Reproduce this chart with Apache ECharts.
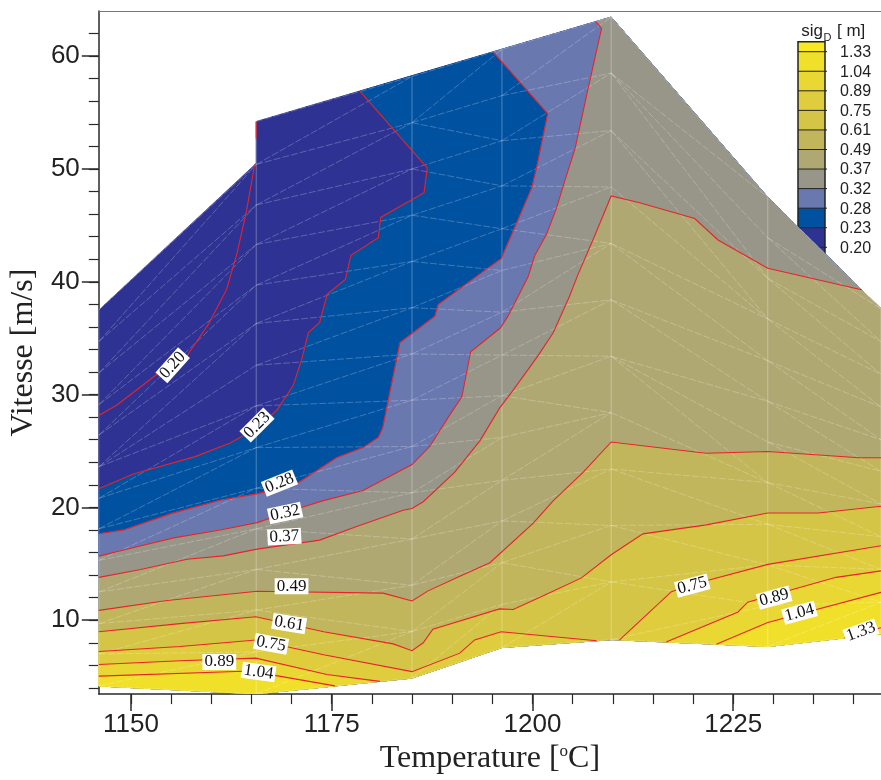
<!DOCTYPE html>
<html>
<head>
<meta charset="utf-8">
<script src="https://cdn.jsdelivr.net/npm/echarts@6/dist/echarts.min.js"></script>
<style>
html,body{margin:0;padding:0;background:#fff;}
#c{width:881px;height:780px;}
</style>
</head>
<body>
<div id="c"></div>
<script>
// ---------------- DATA ----------------
const levels = [0.20, 0.23, 0.28, 0.32, 0.37, 0.49, 0.61, 0.75, 0.89, 1.04, 1.33];
const levelLabels = ['0.20','0.23','0.28','0.32','0.37','0.49','0.61','0.75','0.89','1.04','1.33'];
// band colours: <0.20, 0.20-0.23, ..., >1.33
const bandColors = ['#2e3393','#2e3393','#0151a1','#6a78b0','#979688','#b0a873','#c1b65b','#d4c547','#dfcd3d','#e9d733','#f1e02a','#f7e823'];

// outer boundary of the measured domain (Temperature, Vitesse), clockwise
const domainBoundary = [[1146,37.5],[1165.6,50.5],[1165.6,54.2],[1209.8,63.46],[1229.3,47.5],[1243.4,37.6],
  [1243.4,8.8],[1229.3,7.67],[1209.9,8.28],[1196.2,7.58],[1185.0,4.87],[1165.6,3.47],[1146,4.17]];

// measurement mesh: columns (Temperature) and node velocities on each column
const meshCols = [1146, 1165.6, 1185.0, 1196.2, 1209.8, 1229.3, 1243.4];
const meshNodes = [
  [37.5,34.7,31.9,29.1,26.4,23.6,20.8,18.1,15.3,12.5,9.7,7.0,4.17],
  [54.2,50.4,46.8,43.3,39.7,36.3,32.6,29.0,25.3,21.7,18.1,14.5,10.9,7.2,3.47],
  [58.2,54.1,50.0,45.9,41.8,37.7,33.6,29.5,25.4,21.3,17.2,13.1,9.0,4.87],
  [60.6,56.5,52.5,48.5,44.7,41.0,37.3,33.5,29.9,26.2,22.4,18.8,15.1,11.4,7.58],
  [63.46,58.5,53.4,48.4,43.4,38.4,33.4,28.4,23.4,18.4,13.4,8.28],
  [47.5,43.9,40.3,36.7,33.0,29.4,25.8,22.2,18.5,14.9,11.3,7.67],
  [37.6,34.7,31.8,28.9,26.0,23.2,20.3,17.4,14.5,11.6,8.8]
];

// iso-lines
const line020 = [[1146.0,28.15],[1148.3,29.1],[1153.6,32.0],[1157.0,33.45],[1159.7,36.3],[1161.9,39.3],[1163.2,42.5],[1164.4,46.3],[1165.4,50.37]];
const line020b = [[1165.6,54.2],[1165.6,52.7]];
const line023 = [[1146.0,21.65],[1150.3,22.96],[1158.0,24.5],[1162.35,25.7],[1165.7,27.05],[1168.2,28.65],[1170.2,30.8],[1171.3,33.2],[1172.1,35.5],[1173.5,36.4],[1174.45,38.9],[1176.7,40.2],[1177.4,42.35],[1180.8,43.9],[1181.1,45.7],[1186.5,47.9],[1186.9,50.1],[1178.5,56.9]];
const line028 = [[1146.0,17.66],[1149.1,18.0],[1155.1,19.47],[1161.1,20.63],[1165.7,21.2],[1170.65,22.1],[1175.6,24.4],[1178.9,25.3],[1180.8,26.2],[1181.35,27.05],[1183.5,34.6],[1187.85,36.95],[1188.25,37.97],[1193.85,40.9],[1196.1,42.05],[1197.6,44.5],[1199.9,48.3],[1200.5,50.06],[1201.9,54.9],[1195.1,60.38]];
const line032 = [[1146.0,15.68],[1150.1,16.4],[1155.3,17.3],[1161.1,18.0],[1165.7,18.65],[1171.5,20.05],[1173.95,20.6],[1178.9,21.5],[1185.0,23.8],[1187.2,25.4],[1189.7,28.2],[1191.2,29.8],[1192.3,33.8],[1196.0,35.9],[1196.95,36.95],[1199.45,40.45],[1200.3,42.35],[1201.75,44.2],[1203.0,46.55],[1204.0,48.9],[1205.3,51.8],[1206.9,57.05],[1208.6,62.45],[1207.9,63.06]];
const line037 = [[1146.0,13.8],[1151.2,14.5],[1157.0,15.4],[1161.5,15.7],[1165.7,16.3],[1173.5,17.1],[1178.1,18.3],[1183.9,19.75],[1185.0,19.9],[1186.4,20.5],[1190.3,23.1],[1193.45,25.9],[1195.9,28.8],[1197.6,30.4],[1200.7,33.45],[1202.6,35.5],[1204.6,38.7],[1205.7,40.7],[1207.5,43.65],[1209.8,47.6],[1213.35,47.0],[1220.2,45.6],[1223.1,43.7],[1229.3,41.2],[1239.05,39.6],[1241.0,39.29]];
const line049 = [[1146.0,10.87],[1154.5,11.75],[1165.7,12.56],[1181.4,12.4],[1185.0,11.7],[1187.0,12.6],[1190.95,13.9],[1194.7,15.1],[1200.1,18.6],[1202.6,20.6],[1206.3,23.1],[1209.8,25.8],[1221.6,24.8],[1229.3,24.95],[1240.7,24.4],[1243.4,24.4]];
const line061 = [[1146.0,8.98],[1156.1,9.7],[1165.55,10.3],[1174.0,8.98],[1182.65,7.9],[1185.0,7.3],[1186.4,8.0],[1187.6,9.2],[1195.9,11.0],[1197.6,10.95],[1201.75,12.3],[1206.1,13.75],[1209.8,15.8],[1213.75,17.65],[1221.65,18.45],[1229.3,19.5],[1235.6,19.5],[1243.4,20.1]];
const line075a = [[1146.0,7.23],[1156.1,7.67],[1165.55,8.25],[1174.0,6.94],[1185.0,5.44],[1190.95,7.08],[1192.8,8.25],[1196.1,8.98],[1208.0,8.18]];
const line075b = [[1210.85,8.25],[1217.3,12.53],[1221.65,13.5],[1229.3,14.95],[1243.4,16.6]];
const line089a = [[1146.0,6.07],[1156.1,6.4],[1165.55,6.64],[1174.4,5.19],[1181.0,4.58]];
const line089b = [[1216.65,8.07],[1225.6,10.73],[1226.8,11.6],[1229.3,12.1],[1237.8,13.8],[1243.4,14.37]];
const line104a = [[1146.0,5.04],[1164.0,5.48],[1165.6,5.4],[1175.4,4.18]];
const line104b = [[1222.9,7.87],[1229.3,9.79],[1243.4,12.47]];
const line133 = [[1238.85,8.44],[1243.4,9.33]];

// which iso-lines belong to which level (closed-region lines, extra drawn-only lines)
const levelLines = [[line020],[line023],[line028],[line032],[line037],[line049],[line061],[line075a,line075b],[line089a,line089b],[line104a,line104b],[line133]];
const levelExtraLines = [[line020b],[],[],[],[],[],[],[],[],[],[]];

// in-line labels: text, position (Temperature, Vitesse), angle in degrees
const labelTexts = ['0.20','0.23','0.28','0.32','0.37','0.49','0.61','0.75','0.89','1.04','0.75','0.89','1.04','1.33'];
const labelPos = [[1155.2,32.6],[1165.7,27.3],[1168.5,22.15],[1169.2,19.5],[1169.1,17.4],[1170.0,13.0],[1169.7,9.7],[1167.45,7.9],[1161.0,6.3],[1165.9,5.4],[1219.9,13.06],[1230.1,12.0],[1233.25,10.66],[1240.9,8.98]];
const labelAngles = [48,45,22,12,3,0,-9,-10,0,-8,15,15,15,20];

// axis ticks
const xMajor = [1150,1175,1200,1225];
const xMinor = [1150,1155,1160,1165,1170,1175,1180,1185,1190,1195,1200,1205,1210,1215,1220,1225,1230,1235,1240];
const yMajor = [10,20,30,40,50,60];
const yMinor = [4,6,8,10,12,14,16,18,20,22,24,26,28,30,32,34,36,38,40,42,44,46,48,50,52,54,56,58,60,62];

// ---------------- BUILD REGIONS ----------------
function segDist(p, a, b) {
  const sx = 8.04, sy = 11.44;
  const px = p[0]*sx, py = p[1]*sy, ax = a[0]*sx, ay = a[1]*sy, bx = b[0]*sx, by = b[1]*sy;
  const dx = bx-ax, dy = by-ay;
  let t = ((px-ax)*dx + (py-ay)*dy) / (dx*dx+dy*dy || 1);
  t = Math.max(0, Math.min(1, t));
  return Math.hypot(px-(ax+t*dx), py-(ay+t*dy));
}
function segIndexOf(p) {
  const n = domainBoundary.length;
  let best = 0, bd = Infinity;
  for (let i = 0; i < n; i++) {
    const d = segDist(p, domainBoundary[i], domainBoundary[(i+1)%n]);
    if (d < bd) { bd = d; best = i; }
  }
  return best;
}
function regionOf(line) {
  const n = domainBoundary.length;
  const is = segIndexOf(line[0]);
  const ie = segIndexOf(line[line.length-1]);
  const pts = line.slice();
  let i = ie, guard = 0;
  while (i !== is && guard++ < n) { i = (i+1)%n; pts.push(domainBoundary[i]); }
  return pts;
}
const regions = [{color: bandColors[0], polys: [domainBoundary]}];
levels.forEach((lv, k) => {
  regions.push({color: bandColors[k+1], polys: levelLines[k].map(regionOf)});
});

// mesh edges: column segments (solid) + zipper triangulation between neighbouring columns (dashed)
const meshColEdges = [];
const meshCrossEdges = [];
meshCols.forEach((t, c) => {
  const v = meshNodes[c];
  for (let i = 0; i + 1 < v.length; i++) meshColEdges.push([[t, v[i]], [t, v[i+1]]]);
});
for (let c = 0; c + 1 < meshCols.length; c++) {
  const L = meshNodes[c], R = meshNodes[c+1];
  const fL = i => (L[0] - L[i]) / (L[0] - L[L.length-1]);
  const fR = k => (R[0] - R[k]) / (R[0] - R[R.length-1]);
  let i = 0, k = 0;
  meshCrossEdges.push([[meshCols[c], L[0]], [meshCols[c+1], R[0]]]);
  while (i < L.length - 1 || k < R.length - 1) {
    if (k >= R.length - 1 || (i < L.length - 1 && fL(i+1) <= fR(k+1))) i++; else k++;
    meshCrossEdges.push([[meshCols[c], L[i]], [meshCols[c+1], R[k]]]);
  }
}

// ---------------- CHART ----------------
const chart = echarts.init(document.getElementById('c'), null, {renderer: 'canvas', width: 881, height: 780});
const axisColor = '#2a2a2a';
const sans = '"Liberation Sans", Arial, sans-serif';
const serif = '"Liberation Serif", "Times New Roman", serif';

const legendX = 798, legendW = 27, legendTop = 41.7, legendHalf = 10, legendStep = 19.56;
const graphic = [];
(function buildLegend() {
  const nb = bandColors.length;
  let y = legendTop;
  for (let j = nb - 1; j >= 0; j--) {
    const h = (j === nb - 1 || j === 0) ? legendHalf : legendStep;
    graphic.push({type: 'rect', shape: {x: legendX, y: y, width: legendW, height: h + 0.5}, style: {fill: bandColors[j]}, silent: true});
    y += h;
  }
  const bottom = y;
  for (let i = 0; i < levels.length; i++) {
    const yy = legendTop + legendHalf + i * legendStep;
    graphic.push({type: 'line', shape: {x1: legendX, y1: yy, x2: legendX + legendW + 2, y2: yy}, style: {stroke: '#222', lineWidth: 1}, silent: true});
    graphic.push({type: 'text', x: 840, y: yy + 1, style: {text: levelLabels[levels.length - 1 - i], fontSize: 16, fontFamily: sans, fill: '#222', align: 'left', verticalAlign: 'middle'}, silent: true});
  }
  graphic.push({type: 'rect', shape: {x: legendX, y: legendTop, width: legendW, height: bottom - legendTop}, style: {fill: 'none', stroke: '#222', lineWidth: 1.5}, silent: true});
  graphic.push({type: 'text', x: 823, y: 31, style: {text: 'sig', fontSize: 17, fontFamily: sans, fill: '#222', align: 'right', verticalAlign: 'middle'}, silent: true});
  graphic.push({type: 'text', x: 823.5, y: 38, style: {text: 'D', fontSize: 11, fontFamily: sans, fill: '#222', align: 'left', verticalAlign: 'middle'}, silent: true});
  graphic.push({type: 'text', x: 837, y: 31, style: {text: '[ m]', fontSize: 17, fontFamily: sans, fill: '#222', align: 'left', verticalAlign: 'middle'}, silent: true});
})();

const xRange = {min: 1146, max: 1243.4};
const yRange = {min: 3.45, max: 64};

function edgeGroup(edges, api, style) {
  return {type: 'group', children: edges.map(e => {
    const a = api.coord(e[0]), b = api.coord(e[1]);
    return {type: 'line', shape: {x1: a[0], y1: a[1], x2: b[0], y2: b[1]}, style: style};
  })};
}

const option = {
  animation: false,
  backgroundColor: '#ffffff',
  grid: {left: 98, right: 0, top: 11, bottom: 77, containLabel: false},
  xAxis: [
    {type: 'value', min: xRange.min, max: xRange.max, position: 'bottom',
     axisLine: {show: true, onZero: false, lineStyle: {color: axisColor, width: 1.5}},
     axisTick: {show: true, customValues: xMajor, length: 17, lineStyle: {color: axisColor, width: 1.5}},
     axisLabel: {customValues: xMajor, fontSize: 26, fontFamily: sans, color: '#222', margin: 18, formatter: v => String(v)},
     splitLine: {show: false},
     name: 'Temperature [{sup|o}C]', nameLocation: 'middle', nameGap: 37,
     nameTextStyle: {fontFamily: serif, fontSize: 32, color: '#222',
       rich: {sup: {fontFamily: serif, fontSize: 17, color: '#222', verticalAlign: 'top', padding: [0, 0, 12, 0]}}}},
    {type: 'value', min: xRange.min, max: xRange.max, position: 'bottom',
     axisLine: {show: false},
     axisTick: {show: true, customValues: xMinor, length: 10, lineStyle: {color: axisColor, width: 1.2}},
     axisLabel: {show: false}, splitLine: {show: false}},
    {type: 'value', min: xRange.min, max: xRange.max, position: 'top',
     axisLine: {show: true, onZero: false, lineStyle: {color: '#777', width: 1}},
     axisTick: {show: false}, axisLabel: {show: false}, splitLine: {show: false}}
  ],
  yAxis: [
    {type: 'value', min: yRange.min, max: yRange.max, position: 'left',
     axisLine: {show: true, onZero: false, lineStyle: {color: axisColor, width: 1.5}},
     axisTick: {show: true, customValues: yMajor, length: 17, lineStyle: {color: axisColor, width: 1.5}},
     axisLabel: {customValues: yMajor, fontSize: 26, fontFamily: sans, color: '#222', margin: 19},
     splitLine: {show: false},
     name: 'Vitesse [m/s]', nameLocation: 'middle', nameGap: 50,
     nameTextStyle: {fontFamily: serif, fontSize: 32, color: '#222'}},
    {type: 'value', min: yRange.min, max: yRange.max, position: 'left',
     axisLine: {show: false},
     axisTick: {show: true, customValues: yMinor, length: 10, lineStyle: {color: axisColor, width: 1.2}},
     axisLabel: {show: false}, splitLine: {show: false}}
  ],
  graphic: graphic,
  series: [
    {
      type: 'custom', name: 'fills', xAxisIndex: 0, yAxisIndex: 0, silent: true, clip: true,
      data: regions.map((r, i) => [1190, 30, i]), encode: {x: 0, y: 1},
      renderItem: function (params, api) {
        const r = regions[params.dataIndex];
        return {type: 'group', children: r.polys.map(poly => ({
          type: 'polygon', shape: {points: poly.map(p => api.coord(p))},
          style: {fill: r.color, stroke: r.color, lineWidth: 0.6}
        }))};
      }
    },
    {
      type: 'custom', name: 'mesh', xAxisIndex: 0, yAxisIndex: 0, silent: true, clip: true, z: 2,
      data: [[1190, 30, 0], [1190, 30, 1]], encode: {x: 0, y: 1},
      renderItem: function (params, api) {
        if (params.dataIndex === 0) {
          return edgeGroup(meshColEdges, api, {stroke: 'rgba(255,255,255,0.3)', lineWidth: 1});
        }
        return edgeGroup(meshCrossEdges, api, {stroke: 'rgba(255,255,255,0.26)', lineWidth: 0.9, lineDash: [7, 2]});
      }
    },
    {
      type: 'custom', name: 'isolines', xAxisIndex: 0, yAxisIndex: 0, silent: true, clip: true, z: 3,
      data: levels.map((lv, i) => [1190, 30, i]), encode: {x: 0, y: 1},
      renderItem: function (params, api) {
        const k = params.dataIndex;
        const all = levelLines[k].concat(levelExtraLines[k]);
        return {type: 'group', children: all.map(line => ({
          type: 'polyline', shape: {points: line.map(p => api.coord(p))},
          style: {fill: 'none', stroke: '#e8222b', lineWidth: 1.1}
        }))};
      }
    },
    {
      type: 'custom', name: 'labels', xAxisIndex: 0, yAxisIndex: 0, silent: true, clip: false, z: 4,
      data: labelPos.map((p, i) => [p[0], p[1], i]), encode: {x: 0, y: 1},
      renderItem: function (params, api) {
        const i = params.dataIndex;
        const pt = api.coord(labelPos[i]);
        return {type: 'text', x: pt[0], y: pt[1], rotation: labelAngles[i] * Math.PI / 180,
          style: {text: labelTexts[i], fontSize: 17, fontFamily: serif, fill: '#111',
            align: 'center', verticalAlign: 'middle', backgroundColor: '#ffffff', padding: [0, 2, -1, 2]}};
      }
    }
  ]
};
chart.setOption(option);
</script>
</body>
</html>
